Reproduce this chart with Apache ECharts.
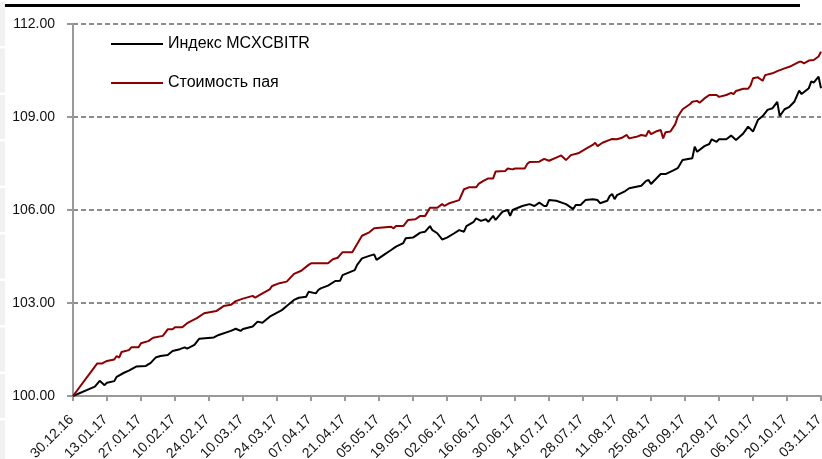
<!DOCTYPE html>
<html>
<head>
<meta charset="utf-8">
<script src="https://cdn.jsdelivr.net/npm/echarts@6/dist/echarts.min.js"></script>
<style>
html,body{margin:0;padding:0;background:#fff;}
#chart{width:822px;height:459px;}
</style>
</head>
<body>
<div id="chart"></div>
<script>
// x positions are days since 30.12.16
const tickLabels = ['30.12.16','13.01.17','27.01.17','10.02.17','24.02.17','10.03.17','24.03.17','07.04.17','21.04.17','05.05.17','19.05.17','02.06.17','16.06.17','30.06.17','14.07.17','28.07.17','11.08.17','25.08.17','08.09.17','22.09.17','06.10.17','20.10.17','03.11.17'];
const seriesNames = ['Индекс MCXCBITR', 'Стоимость пая'];

const indexDays = [0,9,11,13,14,17,18,21,23,26,30,32,34,36,39,41,44,46,47,50,52,58,60,65,67,69,70,74,76,78,81,86,88,91,93,96,97,100,101,102,105,108,110,111,115,116,117,119,122,124,125,128,131,133,136,137,140,143,145,147,148,150,152,154,157,159,161,162,165,166,168,170,171,173,174,176,177,179,180,181,185,188,190,192,194,195,196,199,203,206,207,209,211,214,216,217,220,221,222,223,224,227,229,232,234,236,237,238,242,244,247,249,251,255,256,257,260,262,263,265,266,269,271,273,276,278,280,282,284,286,288,290,291,293,295,297,299,300,303,304,305,307,308];
const indexValues = [100.00,100.30,100.49,100.35,100.43,100.48,100.62,100.75,100.82,100.95,100.97,101.07,101.24,101.29,101.32,101.45,101.51,101.57,101.53,101.65,101.85,101.89,101.97,102.10,102.17,102.10,102.16,102.24,102.40,102.36,102.56,102.77,102.90,103.10,103.17,103.20,103.36,103.31,103.42,103.47,103.56,103.71,103.72,103.90,104.03,104.06,104.23,104.44,104.52,104.57,104.39,104.55,104.71,104.82,104.93,105.09,105.11,105.27,105.30,105.48,105.35,105.25,105.05,105.11,105.25,105.35,105.30,105.48,105.62,105.73,105.65,105.70,105.62,105.81,105.68,105.87,105.95,106.00,105.81,106.00,106.13,106.19,106.13,106.24,106.13,106.13,106.32,106.30,106.19,106.03,106.16,106.16,106.32,106.35,106.32,106.22,106.30,106.45,106.52,106.35,106.48,106.59,106.70,106.75,106.78,106.94,106.97,106.84,107.16,107.16,107.27,107.35,107.61,107.67,108.04,107.88,108.06,108.13,108.28,108.20,108.28,108.28,108.40,108.26,108.47,108.69,108.53,108.90,109.03,109.23,109.28,109.49,109.03,109.25,109.33,109.49,109.85,109.74,109.93,110.15,110.11,110.30,109.93];

const fundDays = [0,10,12,14,17,18,19,20,23,24,27,28,31,33,37,39,41,42,45,47,51,54,59,62,65,67,70,74,75,78,81,82,85,88,91,94,97,98,105,107,109,111,115,117,119,122,124,131,132,133,136,138,141,143,145,147,150,152,153,155,159,161,163,166,167,169,171,173,174,178,179,181,182,186,187,188,192,194,196,199,201,203,205,208,212,214,215,216,218,221,222,224,226,228,229,232,234,236,237,238,240,242,243,244,246,248,249,251,254,255,257,258,260,262,265,266,269,271,272,273,276,278,279,280,282,284,285,288,290,293,295,297,299,300,301,303,305,307,308];
const fundValues = [100.00,101.05,101.05,101.13,101.18,101.29,101.24,101.42,101.48,101.57,101.57,101.70,101.77,101.88,101.94,102.15,102.15,102.22,102.22,102.35,102.51,102.67,102.74,102.90,102.94,103.06,103.14,103.23,103.17,103.31,103.44,103.55,103.64,103.69,103.94,104.04,104.23,104.28,104.28,104.41,104.46,104.64,104.64,104.90,105.17,105.28,105.41,105.46,105.41,105.48,105.48,105.68,105.70,105.81,105.81,106.07,106.07,106.19,106.13,106.22,106.32,106.67,106.73,106.73,106.84,106.94,107.02,107.02,107.24,107.26,107.34,107.31,107.34,107.34,107.48,107.55,107.56,107.65,107.59,107.69,107.76,107.61,107.77,107.83,108.01,108.10,108.17,108.06,108.17,108.26,108.29,108.28,108.33,108.42,108.31,108.36,108.42,108.39,108.56,108.45,108.53,108.58,108.31,108.51,108.53,108.77,109.01,109.25,109.41,109.49,109.52,109.46,109.60,109.71,109.71,109.65,109.71,109.78,109.74,109.84,109.91,109.91,110.02,110.25,110.28,110.17,110.35,110.41,110.48,110.57,110.62,110.70,110.78,110.78,110.73,110.82,110.84,110.95,111.11];

const yMin = 100, yMax = 112, yStep = 3;
const xStep = 14, xMax = (tickLabels.length - 1) * xStep;

const zip = (a, b) => a.map((d, i) => [d, b[i]]);

const blocks = [];
[2, 48.5, 95, 141.5, 188, 234.5, 281, 327.5, 374, 420.5].forEach(y => {
  blocks.push({type: 'rect', shape: {x: 0, y: y, width: 5, height: 44}, style: {fill: '#f1f1f1'}, silent: true});
});

const chart = echarts.init(document.getElementById('chart'), null, {renderer: 'canvas'});
chart.setOption({
  animation: false,
  backgroundColor: '#fff',
  textStyle: {fontFamily: 'Liberation Sans, Arial, sans-serif'},
  graphic: [
    {type: 'rect', shape: {x: 0, y: 4, width: 800, height: 3}, style: {fill: '#000'}, silent: true},
    ...blocks
  ],
  grid: {left: 73, right: 1, top: 24, bottom: 63, containLabel: false, outerBoundsMode: 'none'},
  legend: {
    orient: 'vertical',
    left: 111,
    top: 36,
    icon: 'rect',
    itemWidth: 52,
    itemHeight: 2,
    itemGap: 23,
    padding: 0,
    textStyle: {fontSize: 16, lineHeight: 14, color: '#000', fontFamily: 'Liberation Sans, Arial, sans-serif'},
    data: seriesNames
  },
  xAxis: {
    type: 'value',
    min: 0,
    max: xMax,
    interval: xStep,
    axisLine: {show: true, lineStyle: {color: '#999', width: 2}},
    axisTick: {show: true, length: 5, lineStyle: {color: '#999', width: 2}},
    splitLine: {show: false},
    axisLabel: {
      rotate: 45,
      margin: 20,
      padding: [0, 2, 0, 0],
      fontSize: 14,
      color: '#111',
      fontFamily: 'Liberation Sans, Arial, sans-serif',
      formatter: v => tickLabels[Math.round(v / xStep)] || ''
    }
  },
  yAxis: {
    type: 'value',
    min: yMin,
    max: yMax,
    interval: yStep,
    axisLine: {show: true, lineStyle: {color: '#999', width: 2}},
    axisTick: {show: true, length: 6, lineStyle: {color: '#999', width: 2}},
    splitLine: {show: true, showMinLine: false, lineStyle: {color: '#8c8c8c', width: 2, type: [5, 3]}},
    axisLabel: {
      margin: 18,
      fontSize: 14,
      color: '#111',
      fontFamily: 'Liberation Sans, Arial, sans-serif',
      formatter: v => v.toFixed(2)
    }
  },
  series: [
    {
      name: seriesNames[0],
      type: 'line',
      data: zip(indexDays, indexValues),
      showSymbol: false,
      symbol: 'none',
      lineStyle: {color: '#000', width: 2},
      itemStyle: {color: '#000'},
      z: 3
    },
    {
      name: seriesNames[1],
      type: 'line',
      data: zip(fundDays, fundValues),
      showSymbol: false,
      symbol: 'none',
      lineStyle: {color: '#8b0000', width: 2},
      itemStyle: {color: '#8b0000'},
      z: 3
    }
  ]
});
</script>
</body>
</html>
